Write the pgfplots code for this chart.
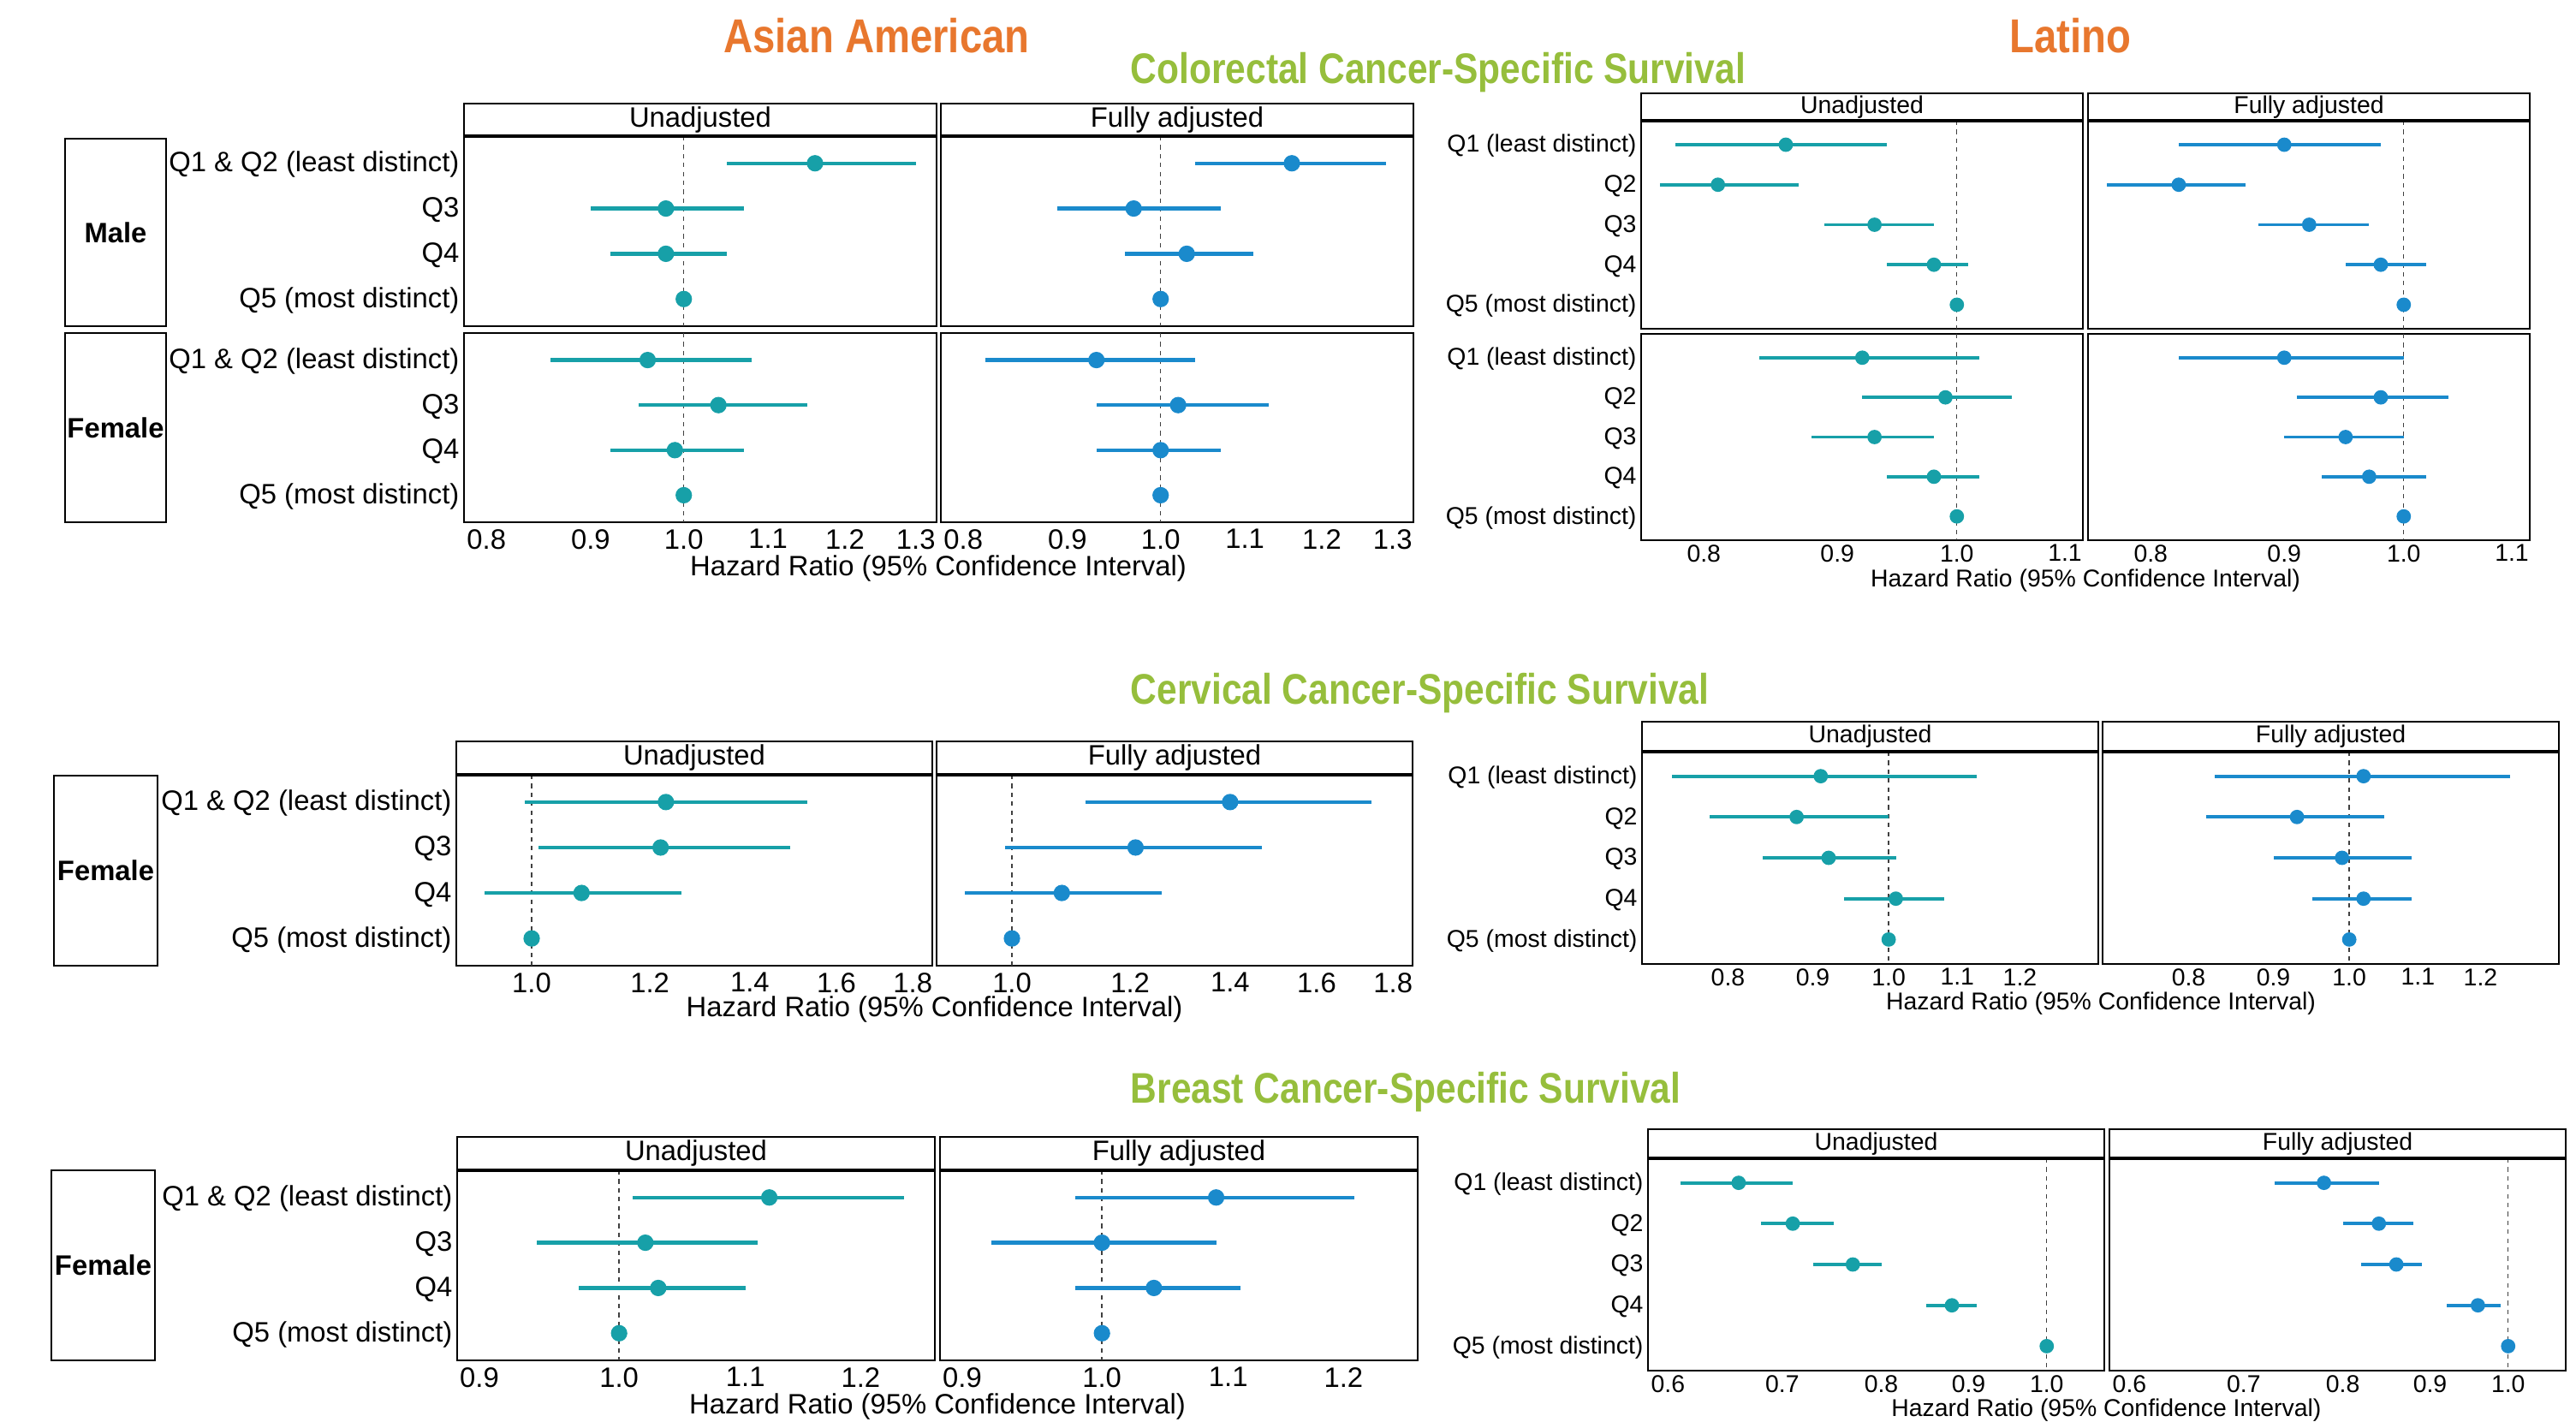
\documentclass[border=0pt]{standalone}
\usepackage{fontspec}
\setmainfont{Liberation Sans}
\newfontfamily\titlefont[FakeStretch=0.85]{Liberation Sans}
\usepackage{pgfplots}
\usepackage{pgfplotstable}
\pgfplotsset{compat=1.18}

\definecolor{tealc}{HTML}{17A0A8}
\definecolor{bluec}{HTML}{1A8ACC}
\definecolor{orangec}{HTML}{E8772E}
\definecolor{greenc}{HTML}{96BE3C}

\newcommand\asf{\fontsize{8.2}{9.8}\selectfont}
\newcommand\lsf{\fontsize{7.1}{8.5}\selectfont}

% ---------------- data: y, hazard ratio, lower, upper ----------------
% Asian American, colorectal
\pgfplotstableread{
y hr lo hi
1 1.16 1.05 1.30
2 0.98 0.90 1.07
3 0.98 0.92 1.05
4 1.00 1.00 1.00
}\ACMu
\pgfplotstableread{
y hr lo hi
1 1.16 1.04 1.29
2 0.97 0.89 1.07
3 1.03 0.96 1.11
4 1.00 1.00 1.00
}\ACMa
\pgfplotstableread{
y hr lo hi
1 0.96 0.86 1.08
2 1.04 0.95 1.15
3 0.99 0.92 1.07
4 1.00 1.00 1.00
}\ACFu
\pgfplotstableread{
y hr lo hi
1 0.93 0.82 1.04
2 1.02 0.93 1.13
3 1.00 0.93 1.07
4 1.00 1.00 1.00
}\ACFa
% Latino, colorectal
\pgfplotstableread{
y hr lo hi
1 0.86 0.78 0.94
2 0.81 0.77 0.87
3 0.93 0.89 0.98
4 0.98 0.94 1.01
5 1.00 1.00 1.00
}\LCMu
\pgfplotstableread{
y hr lo hi
1 0.90 0.82 0.98
2 0.82 0.77 0.87
3 0.92 0.88 0.97
4 0.98 0.95 1.02
5 1.00 1.00 1.00
}\LCMa
\pgfplotstableread{
y hr lo hi
1 0.92 0.84 1.02
2 0.99 0.92 1.05
3 0.93 0.88 0.98
4 0.98 0.94 1.02
5 1.00 1.00 1.00
}\LCFu
\pgfplotstableread{
y hr lo hi
1 0.90 0.82 1.00
2 0.98 0.91 1.04
3 0.95 0.90 1.00
4 0.97 0.93 1.02
5 1.00 1.00 1.00
}\LCFa
% Asian American, cervical
\pgfplotstableread{
y hr lo hi
1 1.23 0.99 1.53
2 1.22 1.01 1.49
3 1.08 0.93 1.26
4 1.00 1.00 1.00
}\CAu
\pgfplotstableread{
y hr lo hi
1 1.40 1.12 1.74
2 1.21 0.99 1.47
3 1.08 0.93 1.26
4 1.00 1.00 1.00
}\CAa
% Latino, cervical
\pgfplotstableread{
y hr lo hi
1 0.91 0.74 1.13
2 0.88 0.78 1.00
3 0.92 0.84 1.01
4 1.01 0.94 1.08
5 1.00 1.00 1.00
}\CLu
\pgfplotstableread{
y hr lo hi
1 1.02 0.83 1.25
2 0.93 0.82 1.05
3 0.99 0.90 1.09
4 1.02 0.95 1.09
5 1.00 1.00 1.00
}\CLa
% Asian American, breast
\pgfplotstableread{
y hr lo hi
1 1.12 1.01 1.24
2 1.02 0.94 1.11
3 1.03 0.97 1.10
4 1.00 1.00 1.00
}\BAu
\pgfplotstableread{
y hr lo hi
1 1.09 0.98 1.21
2 1.00 0.92 1.09
3 1.04 0.98 1.11
4 1.00 1.00 1.00
}\BAa
% Latino, breast
\pgfplotstableread{
y hr lo hi
1 0.66 0.61 0.71
2 0.71 0.68 0.75
3 0.77 0.73 0.80
4 0.88 0.85 0.91
5 1.00 1.00 1.00
}\BLu
\pgfplotstableread{
y hr lo hi
1 0.78 0.73 0.84
2 0.84 0.80 0.88
3 0.86 0.82 0.89
4 0.96 0.92 0.99
5 1.00 1.00 1.00
}\BLa

\pgfplotsset{
  forestbase/.style={scale only axis, anchor=north west, y dir=reverse,
    ymin=0.4, axis line style={line width=0.6pt}, major tick length=0pt,
    tick style={draw=none}, clip=false},
  asianfp/.style={forestbase, tick label style={font=\asf}, ytick={1,2,3,4}, ymax=4.6,
    yticklabel style={inner xsep=1.2pt, yshift=-0.4pt}, xticklabel style={yshift=1.5pt}},
  latfp/.style={forestbase, tick label style={font=\lsf}, ytick={1,2,3,4,5}, ymax=5.6,
    yticklabel style={inner xsep=1.2pt, yshift=-0.4pt}, xticklabel style={yshift=2.2pt}},
  refline/.style={black!75, line width=0.35pt, dash pattern=on 1.3pt off 1.3pt, forget plot},
  ciA/.style={only marks, mark=*, mark size=2.2pt, color=#1, mark options={fill=#1, draw=#1},
    error bars/.cd, x dir=both, x explicit, error mark=none,
    error bar style={color=#1, line width=1.1pt}},
  ciL/.style={only marks, mark=*, mark size=1.9pt, color=#1, mark options={fill=#1, draw=#1},
    error bars/.cd, x dir=both, x explicit, error mark=none,
    error bar style={color=#1, line width=0.95pt}},
  table/hrci/.style={x=hr, y=y, x error plus expr=\thisrow{hi}-\thisrow{hr},
    x error minus expr=\thisrow{hr}-\thisrow{lo}},
}

\newcommand{\strip}[6]{%
  \draw[line width=0.6pt,fill=white] (#1pt,-#2pt) rectangle (#3pt,-#4pt);
  \draw[line width=1.1pt] (#1pt,-#4pt) -- (#3pt,-#4pt);
  \node[font=#6, inner sep=0pt] at ({(#1+#3)/2*1pt},{-(#2+#4)/2*1pt}) {#5};}
\newcommand{\rowstrip}[6]{%
  \draw[line width=0.6pt] (#1pt,-#2pt) rectangle (#3pt,-#4pt);
  \node[font=#6\bfseries, inner sep=0pt] at ({(#1+#3)/2*1pt},{-(#2+#4)/2*1pt}) {#5};}

\begin{document}
\begin{tikzpicture}
\path[use as bounding box] (0pt,0pt) rectangle (752.25pt,-415pt);

% ================= Titles =================
\node[font=\titlefont\bfseries\fontsize{13.9}{16}\selectfont, text=orangec] at (256pt,-10.5pt) {Asian American};
\node[font=\titlefont\bfseries\fontsize{13.9}{16}\selectfont, text=orangec] at (604.5pt,-10.5pt) {Latino};
\node[font=\titlefont\bfseries\fontsize{12.5}{15}\selectfont, text=greenc, anchor=west, inner sep=0pt] at (330pt,-21.25pt) {Colorectal Cancer-Specific Survival};
\node[font=\titlefont\bfseries\fontsize{12.5}{15}\selectfont, text=greenc, anchor=west, inner sep=0pt] at (330pt,-202.5pt) {Cervical Cancer-Specific Survival};
\node[font=\titlefont\bfseries\fontsize{12.5}{15}\selectfont, text=greenc, anchor=west, inner sep=0pt] at (330pt,-319pt) {Breast Cancer-Specific Survival};

% ================= Asian American colorectal =================
\begin{axis}[xmode=log, asianfp, at={(135.5pt,-39.75pt)}, width=138pt, height=55.5pt,
  xmin=0.780, xmax=1.331, xtick={0.8,0.9,1.0,1.1,1.2,1.3}, xticklabels={},
  yticklabels={Q1 \& Q2 (least distinct),Q3,Q4,Q5 (most distinct)}]
\addplot[refline] coordinates {(1,0.4) (1,4.6)};
\addplot[ciA=tealc] table[hrci] {\ACMu};
\end{axis}
\begin{axis}[xmode=log, asianfp, at={(274.75pt,-39.75pt)}, width=138pt, height=55.5pt,
  xmin=0.780, xmax=1.331, xtick={0.8,0.9,1.0,1.1,1.2,1.3}, xticklabels={}, yticklabels={}]
\addplot[refline] coordinates {(1,0.4) (1,4.6)};
\addplot[ciA=bluec] table[hrci] {\ACMa};
\end{axis}
\begin{axis}[xmode=log, asianfp, at={(135.5pt,-97.25pt)}, width=138pt, height=55.25pt,
  xmin=0.780, xmax=1.331, xtick={0.8,0.9,1.0,1.1,1.2,1.3}, xticklabels={0.8,0.9,1.0,1.1,1.2,1.3},
  yticklabels={Q1 \& Q2 (least distinct),Q3,Q4,Q5 (most distinct)}]
\addplot[refline] coordinates {(1,0.4) (1,4.6)};
\addplot[ciA=tealc] table[hrci] {\ACFu};
\end{axis}
\begin{axis}[xmode=log, asianfp, at={(274.75pt,-97.25pt)}, width=138pt, height=55.25pt,
  xmin=0.780, xmax=1.331, xtick={0.8,0.9,1.0,1.1,1.2,1.3}, xticklabels={0.8,0.9,1.0,1.1,1.2,1.3}, yticklabels={}]
\addplot[refline] coordinates {(1,0.4) (1,4.6)};
\addplot[ciA=bluec] table[hrci] {\ACFa};
\end{axis}
\strip{135.5}{30.25}{273.5}{39.75}{Unadjusted}{\asf}
\strip{274.75}{30.25}{412.75}{39.75}{Fully adjusted}{\asf}
\rowstrip{19}{40.5}{48.5}{95.25}{Male}{\asf}
\rowstrip{19}{97.25}{48.5}{152.5}{Female}{\asf}
\node[font=\asf] at (274pt,-166pt) {Hazard Ratio (95\% Confidence Interval)};

% ================= Latino colorectal =================
\begin{axis}[xmode=log, latfp, at={(479.25pt,-35.25pt)}, width=129pt, height=60.75pt,
  xmin=0.757, xmax=1.1176, xtick={0.8,0.9,1.0,1.1}, xticklabels={},
  yticklabels={Q1 (least distinct),Q2,Q3,Q4,Q5 (most distinct)}]
\addplot[refline] coordinates {(1,0.4) (1,5.6)};
\addplot[ciL=tealc] table[hrci] {\LCMu};
\end{axis}
\begin{axis}[xmode=log, latfp, at={(609.75pt,-35.25pt)}, width=129pt, height=60.75pt,
  xmin=0.757, xmax=1.1176, xtick={0.8,0.9,1.0,1.1}, xticklabels={}, yticklabels={}]
\addplot[refline] coordinates {(1,0.4) (1,5.6)};
\addplot[ciL=bluec] table[hrci] {\LCMa};
\end{axis}
\begin{axis}[xmode=log, latfp, at={(479.25pt,-97.5pt)}, width=129pt, height=60.25pt,
  xmin=0.757, xmax=1.1176, xtick={0.8,0.9,1.0,1.1}, xticklabels={0.8,0.9,1.0,1.1},
  yticklabels={Q1 (least distinct),Q2,Q3,Q4,Q5 (most distinct)}]
\addplot[refline] coordinates {(1,0.4) (1,5.6)};
\addplot[ciL=tealc] table[hrci] {\LCFu};
\end{axis}
\begin{axis}[xmode=log, latfp, at={(609.75pt,-97.5pt)}, width=129pt, height=60.25pt,
  xmin=0.757, xmax=1.1176, xtick={0.8,0.9,1.0,1.1}, xticklabels={0.8,0.9,1.0,1.1}, yticklabels={}]
\addplot[refline] coordinates {(1,0.4) (1,5.6)};
\addplot[ciL=bluec] table[hrci] {\LCFa};
\end{axis}
\strip{479.25}{27.25}{608.25}{35.25}{Unadjusted}{\lsf}
\strip{609.75}{27.25}{738.75}{35.25}{Fully adjusted}{\lsf}
\node[font=\lsf] at (609pt,-169.5pt) {Hazard Ratio (95\% Confidence Interval)};

% ================= Asian American cervical =================
\begin{axis}[xmode=log, asianfp, at={(133.25pt,-226.25pt)}, width=139pt, height=55.75pt,
  xmin=0.8903, xmax=1.855, xtick={1.0,1.2,1.4,1.6,1.8}, xticklabels={1.0,1.2,1.4,1.6,1.8},
  yticklabels={Q1 \& Q2 (least distinct),Q3,Q4,Q5 (most distinct)}]
\addplot[refline] coordinates {(1,0.4) (1,4.6)};
\addplot[ciA=tealc] table[hrci] {\CAu};
\end{axis}
\begin{axis}[xmode=log, asianfp, at={(273.5pt,-226.25pt)}, width=139pt, height=55.75pt,
  xmin=0.8903, xmax=1.855, xtick={1.0,1.2,1.4,1.6,1.8}, xticklabels={1.0,1.2,1.4,1.6,1.8}, yticklabels={}]
\addplot[refline] coordinates {(1,0.4) (1,4.6)};
\addplot[ciA=bluec] table[hrci] {\CAa};
\end{axis}
\strip{133.25}{216.5}{272.25}{226.25}{Unadjusted}{\asf}
\strip{273.5}{216.5}{412.5}{226.25}{Fully adjusted}{\asf}
\rowstrip{15.75}{226.5}{46}{282}{Female}{\asf}
\node[font=\asf] at (272.9pt,-294.75pt) {Hazard Ratio (95\% Confidence Interval)};

% ================= Latino cervical =================
\begin{axis}[xmode=log, latfp, at={(479.5pt,-219.5pt)}, width=133.25pt, height=62pt,
  xmin=0.710, xmax=1.338, xtick={0.8,0.9,1.0,1.1,1.2}, xticklabels={0.8,0.9,1.0,1.1,1.2},
  yticklabels={Q1 (least distinct),Q2,Q3,Q4,Q5 (most distinct)}]
\addplot[refline] coordinates {(1,0.4) (1,5.6)};
\addplot[ciL=tealc] table[hrci] {\CLu};
\end{axis}
\begin{axis}[xmode=log, latfp, at={(614pt,-219.5pt)}, width=133.25pt, height=62pt,
  xmin=0.710, xmax=1.338, xtick={0.8,0.9,1.0,1.1,1.2}, xticklabels={0.8,0.9,1.0,1.1,1.2}, yticklabels={}]
\addplot[refline] coordinates {(1,0.4) (1,5.6)};
\addplot[ciL=bluec] table[hrci] {\CLa};
\end{axis}
\strip{479.5}{210.75}{612.75}{219.5}{Unadjusted}{\lsf}
\strip{614}{210.75}{747.25}{219.5}{Fully adjusted}{\lsf}
\node[font=\lsf] at (613.5pt,-293pt) {Hazard Ratio (95\% Confidence Interval)};

% ================= Asian American breast =================
\begin{axis}[xmode=log, asianfp, at={(133.5pt,-341.75pt)}, width=139.5pt, height=55.5pt,
  xmin=0.885, xmax=1.269, xtick={0.9,1.0,1.1,1.2}, xticklabels={0.9,1.0,1.1,1.2},
  yticklabels={Q1 \& Q2 (least distinct),Q3,Q4,Q5 (most distinct)}]
\addplot[refline] coordinates {(1,0.4) (1,4.6)};
\addplot[ciA=tealc] table[hrci] {\BAu};
\end{axis}
\begin{axis}[xmode=log, asianfp, at={(274.5pt,-341.75pt)}, width=139.5pt, height=55.5pt,
  xmin=0.885, xmax=1.269, xtick={0.9,1.0,1.1,1.2}, xticklabels={0.9,1.0,1.1,1.2}, yticklabels={}]
\addplot[refline] coordinates {(1,0.4) (1,4.6)};
\addplot[ciA=bluec] table[hrci] {\BAa};
\end{axis}
\strip{133.5}{332}{273}{341.75}{Unadjusted}{\asf}
\strip{274.5}{332}{414}{341.75}{Fully adjusted}{\asf}
\rowstrip{15}{341.75}{45.25}{397.25}{Female}{\asf}
\node[font=\asf] at (273.75pt,-410.75pt) {Hazard Ratio (95\% Confidence Interval)};

% ================= Latino breast =================
\begin{axis}[xmode=log, latfp, at={(481.25pt,-338.25pt)}, width=133.25pt, height=62pt,
  xmin=0.584, xmax=1.0808, xtick={0.6,0.7,0.8,0.9,1.0}, xticklabels={0.6,0.7,0.8,0.9,1.0},
  yticklabels={Q1 (least distinct),Q2,Q3,Q4,Q5 (most distinct)}]
\addplot[refline] coordinates {(1,0.4) (1,5.6)};
\addplot[ciL=tealc] table[hrci] {\BLu};
\end{axis}
\begin{axis}[xmode=log, latfp, at={(616pt,-338.25pt)}, width=133.25pt, height=62pt,
  xmin=0.584, xmax=1.0808, xtick={0.6,0.7,0.8,0.9,1.0}, xticklabels={0.6,0.7,0.8,0.9,1.0}, yticklabels={}]
\addplot[refline] coordinates {(1,0.4) (1,5.6)};
\addplot[ciL=bluec] table[hrci] {\BLa};
\end{axis}
\strip{481.25}{329.75}{614.5}{338.25}{Unadjusted}{\lsf}
\strip{616}{329.75}{749.25}{338.25}{Fully adjusted}{\lsf}
\node[font=\lsf] at (615.1pt,-411.75pt) {Hazard Ratio (95\% Confidence Interval)};

\end{tikzpicture}
\end{document}
